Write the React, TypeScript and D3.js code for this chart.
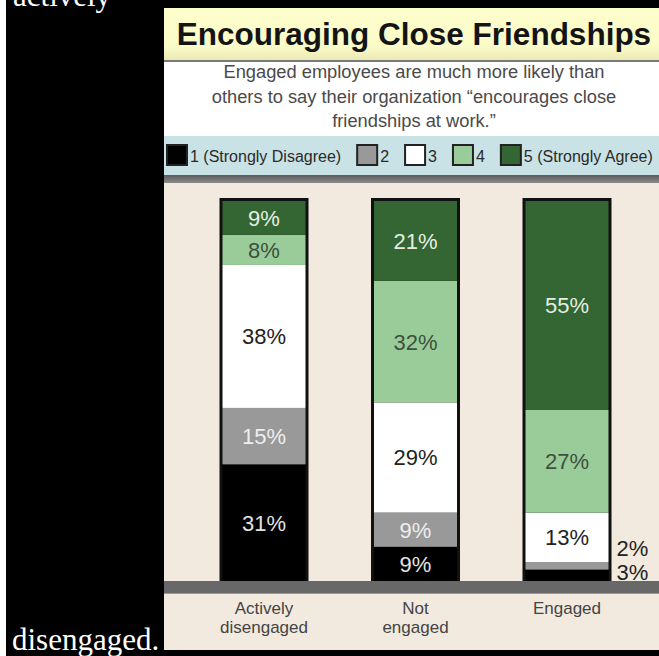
import React, { useMemo } from "react";
import * as d3 from "d3";

// ---- data ----
const categories = ["Actively disengaged", "Not engaged", "Engaged"];
const categoryLines = [["Actively", "disengaged"], ["Not", "engaged"], ["Engaged"]];
const levels = ["1", "2", "3", "4", "5"];
const legendLabels = ["1 (Strongly Disagree)", "2", "3", "4", "5 (Strongly Agree)"];
const level1 = [31, 9, 3];
const level2 = [15, 9, 2];
const level3 = [38, 29, 13];
const level4 = [8, 32, 27];
const level5 = [9, 21, 55];
const titleText = "Encouraging Close Friendships";
const subtitleLines = [
  "Engaged employees are much more likely than",
  "others to say their organization \u201cencourages close",
  "friendships at work.\u201d",
];
const pageWordTop = "actively";
const pageWordBottom = "disengaged.";

const fills = ["#000000", "#999999", "#ffffff", "#99cc99", "#336633"];
const labelFills = ["#e2e2e2", "#eeeeee", "#222222", "#3d513d", "#e6eee2"];

const W = 659;
const H = 656;
const FONT = "'Liberation Sans', Arial, sans-serif";
const SERIF = "'Liberation Serif', 'Times New Roman', serif";

function measure(text: string, size: number): number {
  if (typeof document === "undefined") return text.length * size * 0.5;
  const c = document.createElement("canvas");
  const ctx = c.getContext("2d");
  if (!ctx) return text.length * size * 0.5;
  ctx.font = `${size}px 'Liberation Sans', Arial, sans-serif`;
  return ctx.measureText(text).width;
}

export default function App() {
  const panelX = 164;
  const panelW = 500;
  const panelCx = panelX + panelW / 2;
  const barBottom = 581;
  const barTop = 201;

  const rows = categories.map((c, i) => ({
    cat: c,
    "1": level1[i],
    "2": level2[i],
    "3": level3[i],
    "4": level4[i],
    "5": level5[i],
  }));
  const series = d3.stack<any>().keys(levels).offset(d3.stackOffsetExpand)(rows);

  const x = d3
    .scaleBand<string>()
    .domain(categories)
    .range([167, 664])
    .paddingInner(0.4125)
    .paddingOuter(0.3465);
  const y = d3.scaleLinear().domain([0, 1]).range([barBottom, barTop]);
  const bw = x.bandwidth();
  const border = 3;

  const legendLayout = useMemo(() => {
    const size = 16;
    let cx = 166;
    return legendLabels.map((lab) => {
      const bx = cx;
      const tx = bx + 24;
      const w = measure(lab, size);
      cx = tx + w + 15;
      return { bx, tx, lab };
    });
  }, []);

  // labels
  const labels: any[] = [];
  categories.forEach((cat, ci) => {
    let prevOutY = Infinity;
    levels.forEach((lv, li) => {
      const s = series[li][ci];
      const v = (rows[ci] as any)[lv];
      const y0 = y(s[0]);
      const y1 = y(s[1]);
      const cy = (y0 + y1) / 2;
      if (v >= 5) {
        labels.push({ x: (x(cat) as number) + bw / 2, y: cy, text: `${v}%`, fill: labelFills[li], anchor: "middle" });
      } else {
        const yy = Math.min(cy - 3, prevOutY - 24);
        prevOutY = yy;
        labels.push({ x: (x(cat) as number) + bw + 5, y: yy, text: `${v}%`, fill: "#222222", anchor: "start" });
      }
    });
  });

  return (
    <svg
      width={W}
      height={H}
      style={{ position: "absolute", left: 0, top: 0, display: "block" }}
      xmlns="http://www.w3.org/2000/svg"
    >
      <defs>
        <linearGradient id="titleGrad" x1="0" y1="0" x2="0" y2="1">
          <stop offset="0" stopColor="#fefecd" />
          <stop offset="0.75" stopColor="#fbfbc8" />
          <stop offset="1" stopColor="#ebe9b6" />
        </linearGradient>
        <linearGradient id="sepGrad" x1="0" y1="0" x2="0" y2="1">
          <stop offset="0" stopColor="#5a5a5a" />
          <stop offset="1" stopColor="#8c8c8c" />
        </linearGradient>
      </defs>
      <rect x={0} y={0} width={W} height={H} fill="#ffffff" />
      <rect x={6} y={0} width={W - 6} height={H} fill="#000000" />
      <text x={13} y={6} fontFamily={SERIF} fontSize={31} fill="#ffffff">{pageWordTop}</text>
      <text x={12} y={650} fontFamily={SERIF} fontSize={31} fill="#ffffff">{pageWordBottom}</text>

      {/* panel */}
      <rect x={panelX} y={8} width={panelW} height={52} fill="url(#titleGrad)" />
      <rect x={panelX} y={60} width={panelW} height={2} fill="#7a7a7a" />
      <rect x={panelX} y={62} width={panelW} height={74} fill="#ffffff" />
      <rect x={panelX} y={136} width={panelW} height={39} fill="#c9e2e5" />
      <rect x={panelX} y={175} width={panelW} height={8} fill="url(#sepGrad)" />
      <rect x={panelX} y={183} width={panelW} height={467} fill="#f2eadf" />

      <text x={panelCx} y={45} textAnchor="middle" fontFamily={FONT} fontWeight="bold" fontSize={31.5} fill="#141414">
        {titleText}
      </text>
      {subtitleLines.map((l, i) => (
        <text key={i} x={panelCx} y={78 + i * 24.5} textAnchor="middle" fontFamily={FONT} fontSize={18.3} fill="#4a4a4a">
          {l}
        </text>
      ))}

      {legendLayout.map((d, i) => (
        <g key={i}>
          <rect x={d.bx + 1} y={145} width={20} height={20} fill={fills[i]} stroke="#222" strokeWidth={2} />
          <text x={d.tx} y={156.5} dominantBaseline="central" fontFamily={FONT} fontSize={16} fill="#2a2a2a">
            {d.lab}
          </text>
        </g>
      ))}

      {/* bars */}
      {categories.map((cat) => (
        <rect
          key={cat}
          x={x(cat) as number}
          y={barTop - border}
          width={bw}
          height={barBottom - barTop + border}
          fill="#111111"
        />
      ))}
      {series.map((s, li) =>
        s.map((d: any, ci: number) => (
          <rect
            key={`${li}-${ci}`}
            x={(x(categories[ci]) as number) + border}
            y={y(d[1])}
            width={bw - 2 * border}
            height={y(d[0]) - y(d[1])}
            fill={fills[li]}
          />
        ))
      )}
      {labels.map((l, i) => (
        <text
          key={i}
          x={l.x}
          y={l.y}
          dy="0.36em"
          textAnchor={l.anchor}
          fontFamily={FONT}
          fontSize={22}
          fill={l.fill}
        >
          {l.text}
        </text>
      ))}

      <rect x={panelX} y={barBottom} width={panelW} height={12} fill="#686868" />
      <rect x={panelX} y={barBottom + 12} width={panelW} height={1} fill="#9a9a9a" />

      {categories.map((cat, ci) =>
        categoryLines[ci].map((line, k) => (
          <text
            key={`${ci}-${k}`}
            x={(x(cat) as number) + bw / 2}
            y={614 + k * 19}
            textAnchor="middle"
            fontFamily={FONT}
            fontSize={17}
            fill="#444444"
          >
            {line}
          </text>
        ))
      )}
    </svg>
  );
}
